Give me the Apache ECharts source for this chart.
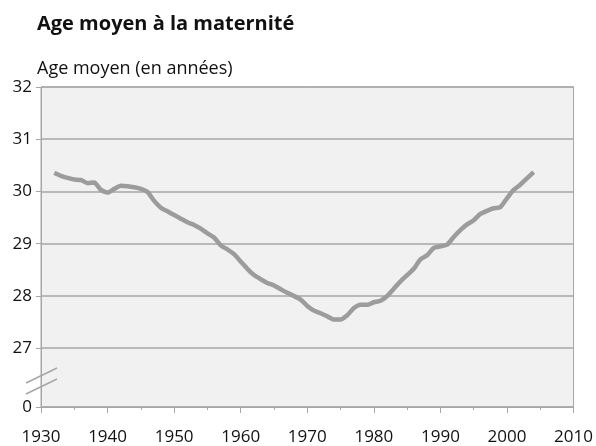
<!DOCTYPE html>
<html>
<head>
<meta charset="utf-8">
<script src="https://cdn.jsdelivr.net/npm/echarts@6/dist/echarts.min.js"></script>
<style>
  html, body { margin: 0; padding: 0; background: #fff; }
  #chart { width: 596px; height: 446px; }
</style>
</head>
<body>
<div id="chart"></div>
<script>
// années (1932 - 2004)
var years = [];
for (var y = 1932; y <= 2004; y++) years.push(y);

// âge moyen
var ages = [
  30.36, 30.30, 30.26, 30.23, 30.22, 30.16, 30.17, 30.03, 29.98, 30.05,
  30.11, 30.10, 30.08, 30.05, 29.99, 29.82, 29.69, 29.62, 29.55, 29.48,
  29.41, 29.36, 29.29, 29.20, 29.12, 28.97, 28.89, 28.80, 28.66, 28.52,
  28.40, 28.32, 28.25, 28.20, 28.13, 28.06, 28.00, 27.93, 27.81, 27.72,
  27.67, 27.61, 27.55, 27.55, 27.63, 27.77, 27.83, 27.83, 27.88, 27.91,
  28.00, 28.14, 28.28, 28.40, 28.52, 28.70, 28.78, 28.92, 28.95, 28.98,
  29.13, 29.26, 29.37, 29.45, 29.57, 29.63, 29.68, 29.70, 29.87, 30.03,
  30.13, 30.25, 30.37
];

// graduations
var yTicks = [25.875, 27, 28, 29, 30, 31, 32]; // 25.875 = "0" (axe coupé)
var xMin = 1930, xMax = 2010;

var chart = echarts.init(document.getElementById("chart"));

var data = [];
for (var i = 0; i < years.length; i++) {
  data.push([years[i], ages[i]]);
}

var grey = "#a6a6a6";
var font = "Open Sans";

chart.setOption({
  animation: false,
  textStyle: { fontFamily: font },
  title: [
    {
      text: "Age moyen à la maternité",
      left: 32,
      top: 9,
      textStyle: { fontFamily: font, fontSize: 20, fontWeight: "bold", color: "#111" }
    },
    {
      text: "Age moyen (en années)",
      left: 32,
      top: 55,
      textStyle: { fontFamily: font, fontSize: 18, fontWeight: "normal", color: "#111" }
    }
  ],
  grid: {
    left: 41,
    right: 22,
    top: 87,
    bottom: 38,
    show: true,
    backgroundColor: "#f0f1f0",
    borderColor: grey,
    borderWidth: 1
  },
  xAxis: {
    type: "value",
    min: xMin,
    max: xMax,
    interval: 10,
    axisLine: { show: true, lineStyle: { color: grey } },
    axisTick: { show: true, length: 6, lineStyle: { color: grey } },
    minorTick: { show: true, splitNumber: 2, length: 3, lineStyle: { color: grey } },
    splitLine: { show: false },
    axisLabel: {
      margin: 22,
      fontSize: 17,
      color: "#111",
      fontFamily: font,
      formatter: function (v) { return String(v); }
    }
  },
  yAxis: {
    type: "value",
    min: 25.875,
    max: 32,
    axisLine: { show: true, lineStyle: { color: grey } },
    axisTick: { show: true, length: 5, customValues: yTicks, lineStyle: { color: grey } },
    splitLine: { show: true, lineStyle: { color: grey, width: 1.5 } },
    axisLabel: {
      margin: 9,
      fontSize: 17,
      color: "#111",
      fontFamily: font,
      customValues: yTicks,
      formatter: function (v) { return v < 26 ? "0" : String(v); }
    }
  },
  graphic: [
    { type: "line", shape: { x1: 26, y1: 383, x2: 57, y2: 368 }, style: { stroke: grey, lineWidth: 1.5 } },
    { type: "line", shape: { x1: 26, y1: 394, x2: 57, y2: 379 }, style: { stroke: grey, lineWidth: 1.5 } }
  ],
  series: [
    {
      type: "line",
      data: data,
      showSymbol: false,
      smooth: 0.2,
      lineStyle: { color: "#9c9c9c", width: 4.5 },
      itemStyle: { color: "#9c9c9c" }
    }
  ]
});
</script>
</body>
</html>
